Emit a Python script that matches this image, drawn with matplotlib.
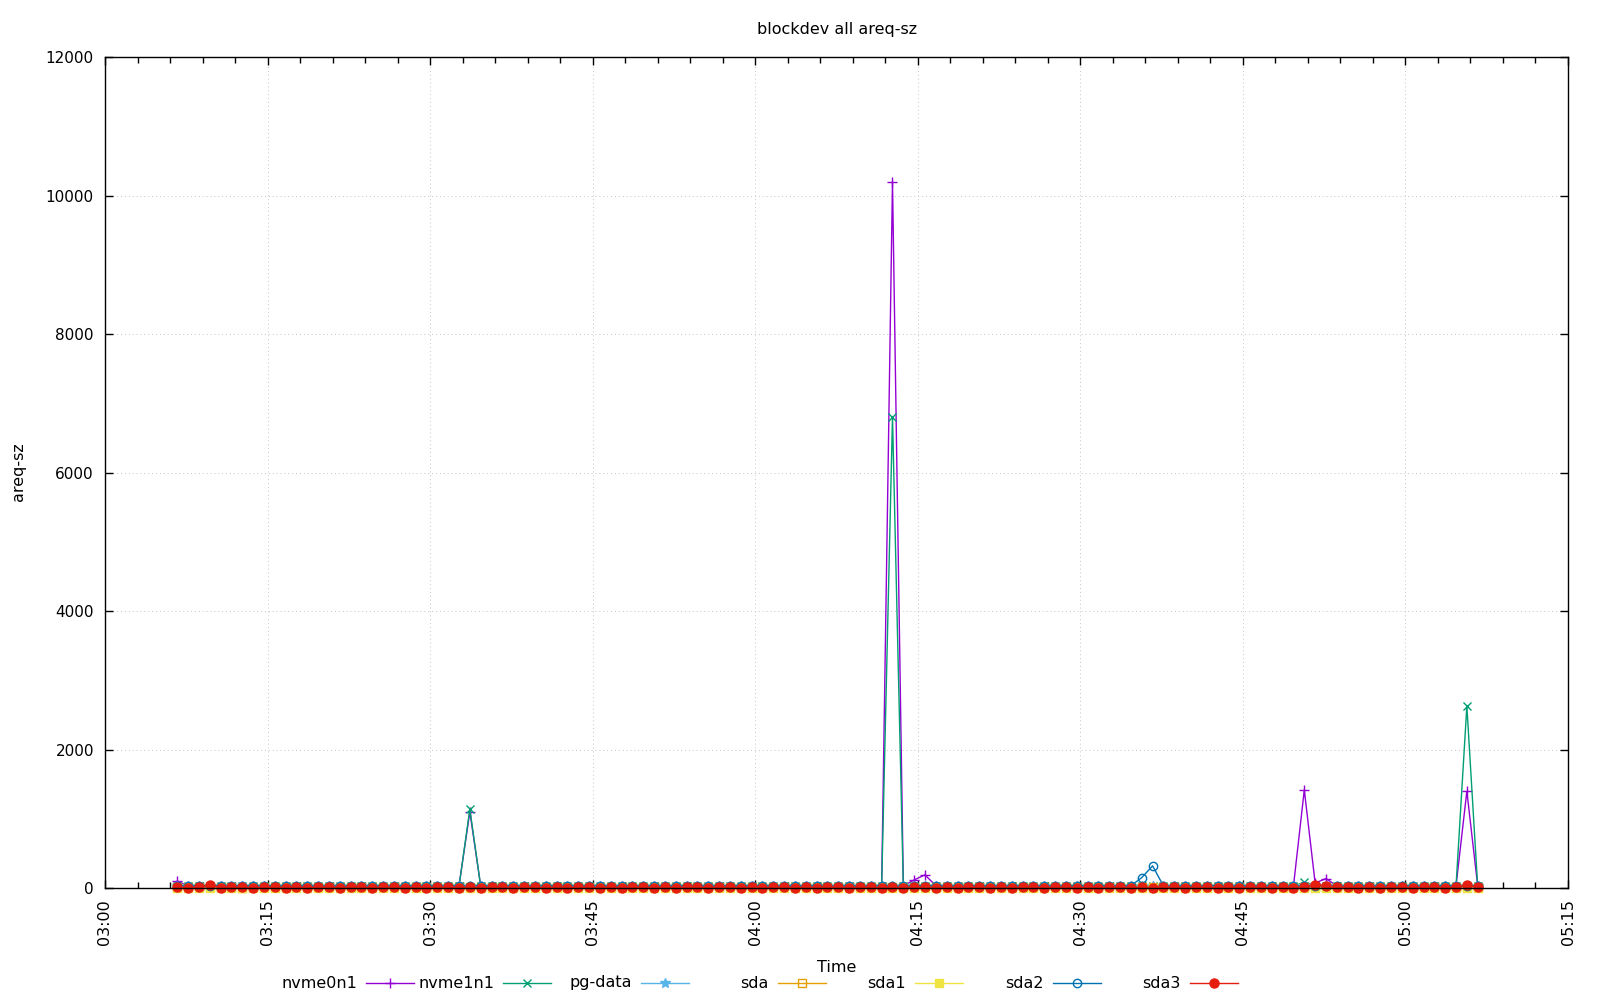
import numpy as np
import pandas as pd
import matplotlib
matplotlib.use("Agg")
import matplotlib.pyplot as plt
import matplotlib.dates as mdates
from matplotlib.lines import Line2D

# one sample per minute
start = "2024-01-01 03:06:40"
n_samples = 121
times = pd.date_range(start, periods=n_samples, freq="1min")

nvme0n1 = [
    100, 30, 28, 35, 26, 30, 27, 33, 29, 31,
    28, 30, 26, 32, 29, 27, 31, 30, 28, 33,
    29, 27, 31, 28, 30, 26, 32, 1100, 30, 28,
    31, 27, 29, 33, 28, 30, 26, 31, 29, 28,
    30, 32, 27, 29, 31, 28, 30, 27, 33, 29,
    28, 31, 30, 26, 29, 32, 28, 30, 27, 31,
    29, 28, 30, 33, 27, 29, 10200, 30, 117, 190,
    32, 28, 30, 27, 31, 29, 28, 30, 26, 32,
    29, 31, 28, 30, 27, 29, 32, 28, 30, 27,
    31, 29, 28, 30, 26, 31, 29, 28, 32, 30,
    27, 29, 31, 28, 1416, 72, 136, 30, 28, 31,
    29, 27, 30, 32, 28, 29, 31, 27, 30, 1398,
    30,
]
nvme1n1 = [
    28, 25, 27, 24, 26, 25, 28, 23, 26, 27,
    24, 26, 25, 27, 23, 26, 25, 28, 24, 26,
    25, 27, 24, 26, 25, 28, 24, 1140, 26, 25,
    27, 24, 26, 25, 23, 27, 25, 26, 24, 28,
    25, 26, 24, 27, 25, 23, 26, 25, 27, 24,
    26, 25, 28, 24, 26, 25, 27, 23, 26, 25,
    24, 27, 25, 26, 24, 25, 6800, 26, 28, 27,
    25, 24, 26, 27, 25, 23, 26, 25, 28, 24,
    26, 25, 27, 24, 26, 25, 23, 27, 25, 26,
    24, 28, 25, 26, 24, 27, 25, 23, 26, 25,
    27, 24, 26, 25, 87, 26, 24, 27, 25, 26,
    24, 28, 25, 26, 24, 27, 25, 23, 26, 2627,
    25,
]
pg_data = [
    32, 30, 33, 29, 31, 34, 30, 32, 29, 31,
    33, 30, 32, 31, 29, 33, 30, 31, 32, 30,
    29, 33, 31, 30, 32, 29, 31, 33, 30, 32,
    31, 29, 33, 30, 31, 32, 30, 29, 33, 31,
    30, 32, 29, 31, 33, 30, 32, 31, 29, 33,
    30, 31, 32, 30, 29, 33, 31, 30, 32, 29,
    31, 33, 30, 32, 31, 29, 33, 30, 31, 32,
    30, 29, 33, 31, 30, 32, 29, 31, 33, 30,
    32, 31, 29, 33, 30, 31, 32, 30, 29, 33,
    31, 30, 32, 29, 31, 33, 30, 32, 31, 29,
    33, 30, 31, 32, 30, 29, 33, 31, 30, 32,
    29, 31, 33, 30, 32, 31, 29, 33, 30, 31,
    32,
]
sda = [
    10, 8, 12, 9, 11, 10, 7, 12, 9, 10,
    11, 8, 10, 12, 9, 11, 10, 8, 12, 9,
    10, 11, 8, 10, 12, 9, 11, 10, 8, 12,
    9, 10, 11, 8, 10, 12, 9, 11, 10, 8,
    12, 9, 10, 11, 8, 10, 12, 9, 11, 10,
    8, 12, 9, 10, 11, 8, 10, 12, 9, 11,
    10, 8, 12, 9, 10, 11, 8, 10, 12, 9,
    11, 10, 8, 12, 9, 10, 11, 8, 10, 12,
    9, 11, 10, 8, 12, 9, 10, 11, 8, 10,
    12, 9, 11, 10, 8, 12, 9, 10, 11, 8,
    10, 12, 9, 11, 10, 8, 12, 9, 10, 11,
    8, 10, 12, 9, 11, 10, 8, 12, 9, 10,
    11,
]
sda1 = [
    0, 1, 0, 2, 0, 1, 0, 0, 1, 0,
    2, 0, 1, 0, 0, 1, 0, 2, 0, 1,
    0, 0, 1, 0, 2, 0, 1, 0, 0, 1,
    0, 2, 0, 1, 0, 0, 1, 0, 2, 0,
    1, 0, 0, 1, 0, 2, 0, 1, 0, 0,
    1, 0, 2, 0, 1, 0, 0, 1, 0, 2,
    0, 1, 0, 0, 1, 0, 2, 0, 1, 0,
    0, 1, 0, 2, 0, 1, 0, 0, 1, 0,
    2, 0, 1, 0, 0, 1, 0, 2, 0, 1,
    0, 0, 1, 0, 2, 0, 1, 0, 0, 1,
    0, 2, 0, 1, 0, 0, 1, 0, 2, 0,
    1, 0, 0, 1, 0, 2, 0, 1, 0, 0,
    1,
]
sda2 = [
    31, 33, 30, 32, 29, 31, 34, 30, 32, 31,
    29, 33, 30, 31, 32, 30, 29, 33, 31, 30,
    32, 29, 31, 33, 30, 32, 31, 29, 33, 30,
    31, 32, 30, 29, 33, 31, 30, 32, 29, 31,
    33, 30, 32, 31, 29, 33, 30, 31, 32, 30,
    29, 33, 31, 30, 32, 29, 31, 33, 30, 32,
    31, 29, 33, 30, 31, 32, 30, 29, 33, 31,
    30, 32, 29, 31, 33, 30, 32, 31, 29, 33,
    30, 31, 32, 30, 29, 33, 31, 30, 32, 150,
    320, 31, 29, 33, 30, 31, 32, 30, 29, 33,
    31, 30, 32, 29, 31, 33, 30, 32, 31, 29,
    33, 30, 31, 32, 30, 29, 33, 31, 30, 32,
    29,
]
sda3 = [
    8, 6, 9, 40, 7, 8, 10, 6, 9, 8,
    7, 9, 6, 8, 10, 7, 9, 8, 6, 9,
    8, 7, 10, 6, 8, 9, 7, 8, 6, 9,
    10, 7, 8, 9, 6, 8, 7, 10, 9, 6,
    8, 7, 9, 8, 6, 10, 7, 9, 8, 6,
    9, 8, 7, 10, 6, 8, 9, 7, 8, 6,
    9, 10, 7, 8, 9, 6, 8, 7, 10, 9,
    6, 8, 7, 9, 8, 6, 10, 7, 9, 8,
    6, 9, 8, 7, 10, 6, 8, 9, 7, 8,
    6, 9, 10, 7, 8, 9, 6, 8, 7, 10,
    9, 6, 8, 7, 15, 50, 35, 9, 8, 6,
    10, 7, 9, 8, 6, 9, 8, 7, 10, 45,
    8,
]

names = ["nvme0n1", "nvme1n1", "pg-data", "sda", "sda1", "sda2", "sda3"]
series = [nvme0n1, nvme1n1, pg_data, sda, sda1, sda2, sda3]
colors = ["#9400d3", "#009e73", "#56b4e9", "#e69f00", "#f0e442", "#0072b2", "#e51e10"]
markers = ["+", "x", "*", "s", "s", "o", "o"]
fills = ["full", "full", "full", "none", "full", "none", "full"]
sizes = [7, 6, 7, 5.5, 6, 6, 6.5]

plt.rcParams["font.family"] = ["DejaVu Sans"]
fig = plt.figure(figsize=(16, 10), dpi=100)
ax = fig.add_axes([105 / 1600, 1 - 888 / 1000, (1568 - 105) / 1600, (888 - 57) / 1000])

for name, vals, c, m, f, s in zip(names, series, colors, markers, fills, sizes):
    ax.plot(times, vals, color=c, lw=1.0, marker=m, ms=s, mew=1.0,
            fillstyle=f, label=name, clip_on=False)

ax.set_xlim(pd.Timestamp("2024-01-01 03:00"), pd.Timestamp("2024-01-01 05:15"))
ax.set_ylim(0, 12000)
ax.set_yticks(np.arange(0, 12001, 2000))
ax.xaxis.set_major_locator(mdates.MinuteLocator(byminute=range(0, 60, 15)))
ax.xaxis.set_minor_locator(mdates.MinuteLocator(byminute=range(0, 60, 3)))
ax.xaxis.set_major_formatter(mdates.DateFormatter("%H:%M"))
ax.tick_params(axis="both", which="both", direction="in", top=True, right=True,
               labelsize=11.5, width=1)
ax.tick_params(axis="both", which="major", length=6)
ax.tick_params(axis="both", which="minor", length=4)
ax.tick_params(axis="x", which="major", pad=8, labelrotation=90)
ax.tick_params(axis="y", which="major", pad=8, labelsize=11)
ax.grid(True, which="major", color="#c4c4c4", lw=0.7, linestyle=(0, (1, 3)))
for sp in ax.spines.values():
    sp.set_linewidth(1)

fig.text(837 / 1600, 1 - 29.5 / 1000, "blockdev all areq-sz", ha="center", va="center", fontsize=11.5)
fig.text(18.5 / 1600, 1 - 472 / 1000, "areq-sz", ha="center", va="center", rotation=90, fontsize=11.5)
fig.text(837 / 1600, 1 - 967 / 1000, "Time", ha="center", va="center", fontsize=11.5)

# gnuplot-like key in one row below the plot
key_y = 1 - 983 / 1000
for i, (name, c, m, f, s) in enumerate(zip(names, colors, markers, fills, sizes)):
    right = 357 + i * 137.3
    fig.text(right / 1600, key_y, name, ha="right", va="center", fontsize=11.5)
    x0, x1 = (right + 9) / 1600, (right + 57) / 1600
    fig.add_artist(Line2D([x0, x1], [key_y, key_y], color=c, lw=1.0,
                          transform=fig.transFigure))
    fig.add_artist(Line2D([(x0 + x1) / 2], [key_y], color=c, marker=m, ms=s,
                          mew=1.0, fillstyle=f, transform=fig.transFigure))

fig.savefig("out.png", dpi=100)
